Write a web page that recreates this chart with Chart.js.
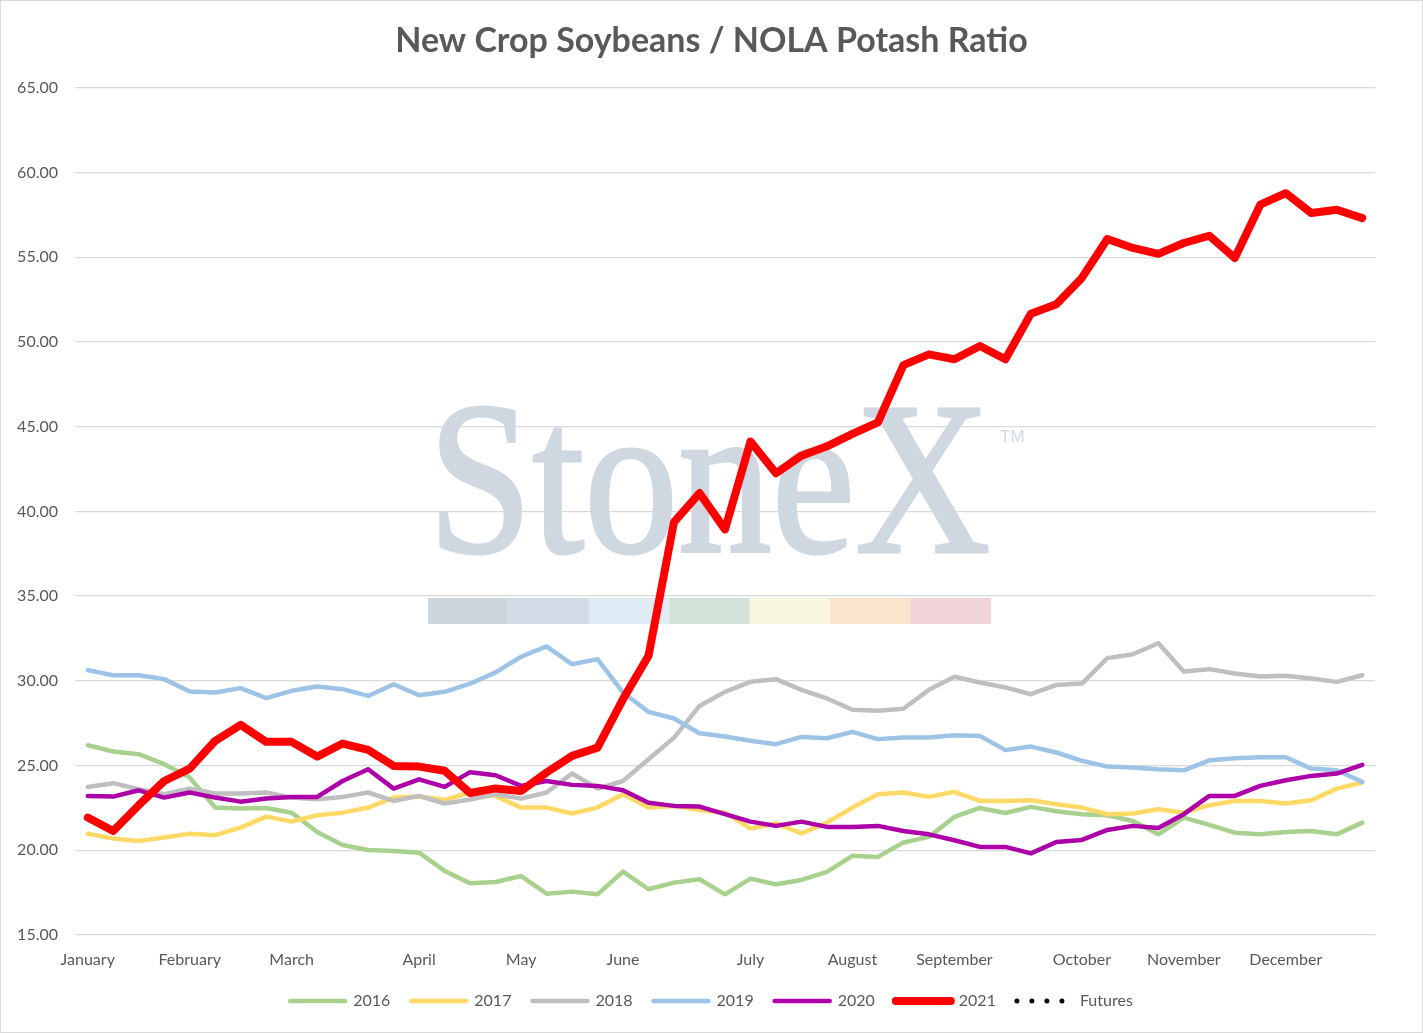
<!DOCTYPE html>
<html>
<head>
<meta charset="utf-8">
<title>New Crop Soybeans / NOLA Potash Ratio</title>
<script src="https://cdn.jsdelivr.net/npm/chart.js@4.4.1/dist/chart.umd.min.js"></script>
<style>
  html, body { margin: 0; padding: 0; background: #fff; }
  #wrap {
    position: absolute; left: 0; top: 0;
    width: 1423px; height: 1033px;
    box-sizing: border-box; border: 1px solid #d9d9d9;
  }
</style>
</head>
<body>
<div id="wrap"><canvas id="chart"></canvas></div>
<script>
// weekly points, month name shown on the first week of each month
const months = ['January', 'February', 'March', 'April', 'May', 'June',
  'July', 'August', 'September', 'October', 'November', 'December'];
const monthWeeks = [0, 4, 8, 13, 17, 21, 26, 30, 34, 39, 43, 47];
const weekCount = 51;

const y2016 = [26.2, 25.83, 25.67, 25.08, 24.29, 22.52, 22.46, 22.5, 22.22, 21.08,
  20.31, 20.02, 19.96, 19.86, 18.78, 18.05, 18.13, 18.48, 17.44, 17.56,
  17.4, 18.74, 17.7, 18.09, 18.29, 17.4, 18.33, 17.99, 18.25, 18.72,
  19.67, 19.61, 20.46, 20.79, 21.97, 22.5, 22.2, 22.56, 22.3, 22.13,
  22.07, 21.73, 20.94, 21.93, 21.5, 21.04, 20.94, 21.08, 21.14, 20.94, 21.63];
const y2017 = [20.98, 20.69, 20.55, 20.75, 20.98, 20.89, 21.34, 21.99, 21.69, 22.07,
  22.22, 22.52, 23.11, 23.17, 22.97, 23.41, 23.21, 22.52, 22.52, 22.17,
  22.52, 23.31, 22.52, 22.62, 22.38, 22.22, 21.28, 21.59, 21.0, 21.63,
  22.52, 23.31, 23.41, 23.15, 23.45, 22.91, 22.91, 22.95, 22.72, 22.52,
  22.13, 22.17, 22.42, 22.22, 22.66, 22.91, 22.91, 22.76, 22.95, 23.64, 24.0];
const y2018 = [23.74, 23.96, 23.6, 23.31, 23.64, 23.35, 23.35, 23.41, 23.11, 23.01,
  23.15, 23.41, 22.91, 23.21, 22.76, 23.0, 23.31, 23.05, 23.41, 24.53,
  23.64, 24.09, 25.37, 26.65, 28.52, 29.35, 29.94, 30.1, 29.47, 28.96,
  28.29, 28.23, 28.35, 29.47, 30.24, 29.9, 29.61, 29.21, 29.76, 29.84,
  31.34, 31.57, 32.22, 30.55, 30.69, 30.43, 30.26, 30.3, 30.14, 29.94, 30.33];
const y2019 = [30.63, 30.33, 30.33, 30.1, 29.37, 29.31, 29.57, 28.98, 29.41, 29.67,
  29.51, 29.11, 29.8, 29.15, 29.35, 29.83, 30.5, 31.42, 32.03, 30.98,
  31.28, 29.31, 28.17, 27.78, 26.91, 26.71, 26.46, 26.26, 26.69, 26.61,
  26.99, 26.56, 26.65, 26.65, 26.79, 26.75, 25.91, 26.12, 25.77, 25.28,
  24.94, 24.88, 24.78, 24.72, 25.31, 25.43, 25.49, 25.49, 24.82, 24.72, 24.04];
const y2020 = [23.21, 23.17, 23.54, 23.11, 23.41, 23.11, 22.87, 23.05, 23.15, 23.15,
  24.09, 24.78, 23.64, 24.19, 23.74, 24.61, 24.43, 23.8, 24.09, 23.86,
  23.8, 23.54, 22.81, 22.62, 22.58, 22.13, 21.69, 21.44, 21.69, 21.38,
  21.38, 21.44, 21.14, 20.94, 20.59, 20.2, 20.2, 19.82, 20.49, 20.61,
  21.2, 21.44, 21.32, 22.13, 23.21, 23.21, 23.8, 24.13, 24.39, 24.53, 25.04];
const y2021 = [21.93, 21.14, 22.66, 24.09, 24.82, 26.46, 27.4, 26.4, 26.4, 25.53,
  26.3, 25.93, 24.98, 24.94, 24.69, 23.38, 23.65, 23.5, 24.59, 25.57,
  26.06, 28.92, 31.48, 39.37, 41.08, 38.94, 44.12, 42.25, 43.29, 43.84,
  44.57, 45.25, 48.63, 49.27, 48.98, 49.76, 48.98, 51.67, 52.22, 53.78,
  56.08, 55.55, 55.2, 55.84, 56.27, 54.96, 58.1, 58.78, 57.61, 57.8, 57.31];
const futures = [];

const weekLabels = Array.from({ length: weekCount }, (_, i) => {
  const m = monthWeeks.indexOf(i);
  return m >= 0 ? months[m] : '';
});

const textGray = '#595959';
const font = 'Lato';

function series(label, data, color, width, order) {
  return {
    label: label,
    data: data,
    borderColor: color,
    backgroundColor: color,
    borderWidth: width,
    borderJoinStyle: 'round',
    borderCapStyle: 'round',
    pointRadius: 0,
    pointHoverRadius: 0,
    tension: 0,
    order: order
  };
}

const datasets = [
  series('2016', y2016, '#a9d18e', 4.5, 6),
  series('2017', y2017, '#ffd966', 4.5, 5),
  series('2018', y2018, '#bfbfbf', 4.5, 4),
  series('2019', y2019, '#9dc3e6', 4.5, 3),
  series('2020', y2020, '#ae00a8', 4.5, 2),
  series('2021', y2021, '#ff0000', 8, 1),
  Object.assign(series('Futures', futures, '#000000', 5, 0), { borderDash: [0, 15] })
];

// faded StoneX logo behind the lines
const stonexMark = {
  id: 'stonexMark',
  beforeDatasetsDraw(chart) {
    const ctx = chart.ctx;
    ctx.save();
    ctx.fillStyle = '#cfd7e0';
    ctx.font = '218px "Liberation Serif"';
    ctx.textBaseline = 'alphabetic';
    ctx.translate(427, 551);
    ctx.scale(0.86, 1);
    ctx.strokeStyle = '#cfd7e0';
    ctx.lineWidth = 3;
    ctx.fillText('StoneX', 0, 0);
    ctx.strokeText('StoneX', 0, 0);
    ctx.restore();

    ctx.save();
    ctx.fillStyle = '#d3d9e0';
    ctx.font = '17px "Liberation Sans"';
    ctx.fillText('TM', 999, 436);
    const bars = ['#cdd5df', '#d1dbe7', '#dfebf5', '#d3e2d8', '#f8f7de', '#f9e5cd', '#f0d4d7'];
    bars.forEach((c, i) => {
      ctx.fillStyle = c;
      ctx.fillRect(427 + i * 80.4, 597, 80.6, 26);
    });
    ctx.restore();
  }
};

new Chart(document.getElementById('chart'), {
  type: 'line',
  data: { labels: weekLabels, datasets: datasets },
  plugins: [stonexMark],
  options: {
    responsive: true,
    maintainAspectRatio: false,
    animation: false,
    layout: { padding: { left: 0, right: 0, top: 0, bottom: 13 } },
    plugins: {
      title: {
        display: true,
        text: 'New Crop Soybeans / NOLA Potash Ratio',
        color: textGray,
        font: { family: font, size: 34, weight: 'bold' },
        padding: { top: 20, bottom: 26 }
      },
      legend: {
        position: 'bottom',
        labels: {
          usePointStyle: true,
          pointStyleWidth: 55,
          padding: 21,
          color: textGray,
          font: { family: font, size: 16 },
          generateLabels(chart) {
            return chart.data.datasets.map((ds, i) => ({
              text: ds.label,
              fillStyle: ds.borderColor,
              strokeStyle: ds.borderColor,
              lineWidth: ds.borderWidth,
              lineCap: 'round',
              lineDash: ds.borderDash || [],
              pointStyle: 'line',
              fontColor: textGray,
              hidden: false,
              datasetIndex: i
            }));
          }
        }
      },
      tooltip: { enabled: false }
    },
    scales: {
      x: {
        offset: true,
        grid: { display: false },
        border: { display: false },
        ticks: {
          autoSkip: false,
          maxRotation: 0,
          padding: 7,
          color: textGray,
          font: { family: font, size: 16 }
        },
        afterFit(scale) { scale.height = 37; }
      },
      y: {
        min: 15,
        max: 65,
        grid: { color: '#d9d9d9', lineWidth: 1.3, drawTicks: false },
        border: { display: false },
        ticks: {
          stepSize: 5,
          padding: 17,
          color: textGray,
          font: { family: font, size: 16 },
          callback: (v) => v.toFixed(2)
        },
        afterFit(scale) { scale.width = 74; }
      },
      // empty right-hand strip so the plot ends where the original does
      yRight: {
        position: 'right',
        grid: { display: false },
        border: { display: false },
        ticks: { display: false },
        afterFit(scale) { scale.width = 47; }
      }
    }
  }
});
</script>
</body>
</html>
